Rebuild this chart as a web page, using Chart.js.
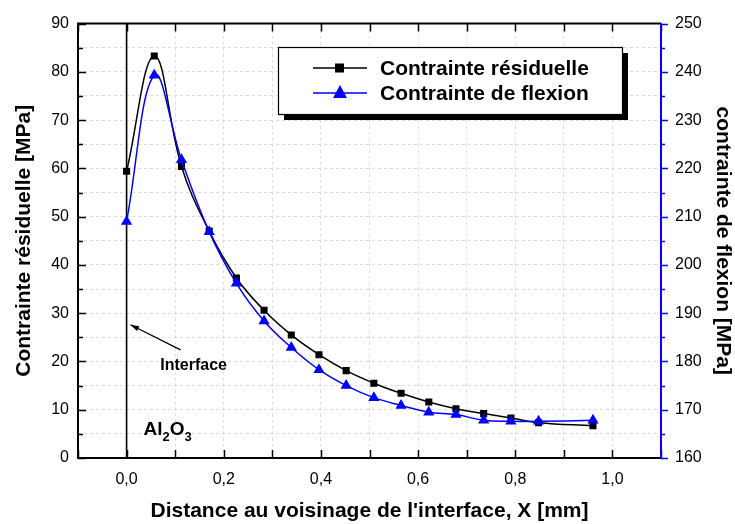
<!DOCTYPE html>
<html>
<head>
<meta charset="utf-8">
<script src="https://cdn.jsdelivr.net/npm/chart.js@4.4.1/dist/chart.umd.min.js"></script>
<style>
  html, body { margin: 0; padding: 0; background: #fff; }
  #wrap { width: 735px; height: 524px; }
</style>
</head>
<body>
<div id="wrap"><canvas id="myChart"></canvas></div>
<script>
// data
const distance = [0, 0.057, 0.113, 0.17, 0.226, 0.283, 0.339, 0.396, 0.452, 0.509, 0.565, 0.622, 0.678, 0.735, 0.791, 0.848, 0.96];
const residualStress = [59.4, 83.3, 60.4, 47.0, 37.3, 30.6, 25.5, 21.4, 18.1, 15.5, 13.4, 11.6, 10.2, 9.2, 8.3, 7.3, 6.7];
const bendingStress = [209.0, 239.3, 221.8, 206.9, 196.2, 188.4, 182.9, 178.3, 175.0, 172.5, 170.9, 169.5, 169.0, 167.8, 167.6, 167.6, 167.8];
const seriesLabels = ["Contrainte résiduelle", "Contrainte de flexion"];

const FONT = "'Liberation Sans', Arial, sans-serif";
const BLUE = "#0000ff";

function toPoints(xs, ys) {
  return xs.map((x, i) => ({ x: x, y: ys[i] }));
}

// frame, inward ticks, interface line, arrow, labels and legend box
const decorPlugin = {
  id: "decor",
  beforeDatasetsDraw(chart) {
    const ctx = chart.ctx;
    const a = chart.chartArea;
    const x0 = chart.scales.x.getPixelForValue(0);
    ctx.save();
    ctx.strokeStyle = "#000";
    ctx.lineWidth = 1.6;
    ctx.beginPath();
    ctx.moveTo(x0, a.top);
    ctx.lineTo(x0, a.bottom);
    ctx.stroke();
    ctx.restore();
  },
  afterDraw(chart) {
    const ctx = chart.ctx;
    const a = chart.chartArea;
    const sx = chart.scales.x;
    const sy = chart.scales.y;
    const sy1 = chart.scales.y1;
    ctx.save();

    // ticks
    ctx.lineWidth = 1.5;
    ctx.strokeStyle = "#000";
    ctx.beginPath();
    sx.ticks.forEach((t) => {
      const px = Math.round(sx.getPixelForValue(t.value)) + 0.5;
      ctx.moveTo(px, a.bottom);
      ctx.lineTo(px, a.bottom - 8);
      ctx.moveTo(px, a.top);
      ctx.lineTo(px, a.top + 8);
    });
    sy.ticks.forEach((t) => {
      const py = Math.round(sy.getPixelForValue(t.value)) + 0.5;
      const len = Math.round(t.value) % 10 === 0 ? 8 : 5;
      ctx.moveTo(a.left, py);
      ctx.lineTo(a.left + len, py);
    });
    ctx.stroke();

    ctx.strokeStyle = BLUE;
    ctx.beginPath();
    sy1.ticks.forEach((t) => {
      const py = Math.round(sy1.getPixelForValue(t.value)) + 0.5;
      const len = Math.round(t.value) % 10 === 0 ? 7 : 4;
      ctx.moveTo(a.right, py);
      ctx.lineTo(a.right + len, py);
    });
    ctx.stroke();

    // frame
    ctx.lineWidth = 2;
    ctx.strokeStyle = "#000";
    ctx.beginPath();
    ctx.moveTo(a.right, a.top);
    ctx.lineTo(a.left, a.top);
    ctx.lineTo(a.left, a.bottom);
    ctx.lineTo(a.right, a.bottom);
    ctx.stroke();
    ctx.strokeStyle = BLUE;
    ctx.beginPath();
    ctx.moveTo(a.right, a.top);
    ctx.lineTo(a.right, a.bottom);
    ctx.stroke();

    // interface arrow
    const tailX = sx.getPixelForValue(0.111), tailY = sy.getPixelForValue(22.4);
    const tipX = sx.getPixelForValue(0.008), tipY = sy.getPixelForValue(27.6);
    ctx.strokeStyle = "#000";
    ctx.fillStyle = "#000";
    ctx.lineWidth = 1.3;
    ctx.beginPath();
    ctx.moveTo(tailX, tailY);
    ctx.lineTo(tipX, tipY);
    ctx.stroke();
    const ang = Math.atan2(tipY - tailY, tipX - tailX);
    ctx.beginPath();
    ctx.moveTo(tipX, tipY);
    ctx.lineTo(tipX - 9 * Math.cos(ang - 0.3), tipY - 9 * Math.sin(ang - 0.3));
    ctx.lineTo(tipX - 9 * Math.cos(ang + 0.3), tipY - 9 * Math.sin(ang + 0.3));
    ctx.closePath();
    ctx.fill();

    ctx.font = "bold 16px " + FONT;
    ctx.textAlign = "center";
    ctx.textBaseline = "alphabetic";
    ctx.fillText("Interface", sx.getPixelForValue(0.138), sy.getPixelForValue(18.2));

    // Al2O3
    ctx.textAlign = "left";
    let px = sx.getPixelForValue(0.035);
    const base = sy.getPixelForValue(4.8);
    ctx.font = "bold 19px " + FONT;
    ctx.fillText("Al", px, base);
    px += ctx.measureText("Al").width;
    ctx.font = "bold 13px " + FONT;
    ctx.fillText("2", px, base + 6);
    px += ctx.measureText("2").width;
    ctx.font = "bold 19px " + FONT;
    ctx.fillText("O", px, base);
    px += ctx.measureText("O").width;
    ctx.font = "bold 13px " + FONT;
    ctx.fillText("3", px, base + 6);

    // legend box with shadow
    const bx = 278, by = 47, bw = 344, bh = 67;
    ctx.fillStyle = "#000";
    ctx.fillRect(bx + 6, by + bh, bw, 6);
    ctx.fillRect(bx + bw, by + 6, 6, bh);
    ctx.fillStyle = "#fff";
    ctx.fillRect(bx, by, bw, bh);
    ctx.strokeStyle = "#000";
    ctx.lineWidth = 1.2;
    ctx.strokeRect(bx + 0.5, by + 0.5, bw, bh);

    const rows = [
      { y: by + 21, color: "#000", label: seriesLabels[0], style: "rect" },
      { y: by + 46, color: BLUE, label: seriesLabels[1], style: "triangle" },
    ];
    rows.forEach((r) => {
      ctx.strokeStyle = r.color;
      ctx.fillStyle = r.color;
      ctx.lineWidth = 1.5;
      ctx.beginPath();
      ctx.moveTo(313, r.y);
      ctx.lineTo(367, r.y);
      ctx.stroke();
      if (r.style === "rect") {
        ctx.fillRect(335, r.y - 4.5, 9, 9);
      } else {
        ctx.beginPath();
        ctx.moveTo(340, r.y - 8);
        ctx.lineTo(347, r.y + 5);
        ctx.lineTo(333, r.y + 5);
        ctx.closePath();
        ctx.fill();
      }
      ctx.fillStyle = "#000";
      ctx.font = "bold 21px " + FONT;
      ctx.textAlign = "left";
      ctx.textBaseline = "middle";
      ctx.fillText(r.label, 380, r.y + 1);
    });

    ctx.restore();
  },
};

const chartContext = document.getElementById("myChart").getContext("2d");

const chart = new Chart(chartContext, {
  type: "line",
  data: {
    datasets: [
      {
        label: seriesLabels[0],
        data: toPoints(distance, residualStress),
        yAxisID: "y",
        borderColor: "#000",
        backgroundColor: "#000",
        borderWidth: 1.5,
        pointStyle: "rect",
        pointRadius: 5,
        pointBorderWidth: 0,
        tension: 0.4,
        order: 1,
      },
      {
        label: seriesLabels[1],
        data: toPoints(distance, bendingStress),
        yAxisID: "y1",
        borderColor: BLUE,
        backgroundColor: BLUE,
        borderWidth: 1.5,
        pointStyle: "triangle",
        pointRadius: 6.5,
        pointBorderWidth: 0,
        tension: 0.4,
        order: 0,
      },
    ],
  },
  options: {
    responsive: true,
    maintainAspectRatio: false,
    animation: false,
    layout: { padding: { top: 17, left: 0, right: 0, bottom: 0 } },
    plugins: {
      legend: { display: false },
      tooltip: { enabled: false },
    },
    scales: {
      x: {
        type: "linear",
        min: -0.1,
        max: 1.1,
        afterFit: (s) => { s.height = 66; },
        grid: { color: "#dcdcdc", lineWidth: 1, drawTicks: false },
        border: { display: false, dash: [3, 3] },
        ticks: {
          stepSize: 0.1,
          autoSkip: false,
          maxRotation: 0,
          padding: 12,
          color: "#000",
          font: { family: FONT, size: 16 },
          callback: (v) => {
            const n = Math.round(v * 10);
            return n % 2 === 0 ? (n / 10).toFixed(1).replace(".", ",") : "";
          },
        },
        title: {
          display: true,
          text: "Distance au voisinage de l'interface, X [mm]",
          color: "#000",
          font: { family: FONT, size: 21, weight: "bold" },
          padding: { top: 0, bottom: 0 },
        },
      },
      y: {
        position: "left",
        min: 0,
        max: 90,
        afterFit: (s) => { s.width = 78; },
        grid: { color: "#dcdcdc", lineWidth: 1, drawTicks: false },
        border: { display: false, dash: [3, 3] },
        ticks: {
          stepSize: 5,
          autoSkip: false,
          padding: 9,
          color: "#000",
          font: { family: FONT, size: 16 },
          callback: (v) => (Math.round(v) % 10 === 0 ? String(v) : ""),
        },
        title: {
          display: true,
          text: "Contrainte résiduelle [MPa]",
          color: "#000",
          font: { family: FONT, size: 21, weight: "bold" },
          padding: { top: 12, bottom: 0 },
        },
      },
      y1: {
        position: "right",
        min: 160,
        max: 250,
        afterFit: (s) => { s.width = 74; },
        grid: { display: false, drawTicks: false },
        border: { display: false },
        ticks: {
          stepSize: 5,
          autoSkip: false,
          padding: 14,
          color: "#000",
          font: { family: FONT, size: 16 },
          callback: (v) => (Math.round(v) % 10 === 0 ? String(v) : ""),
        },
        title: {
          display: true,
          text: "contrainte de flexion [MPa]",
          color: "#000",
          font: { family: FONT, size: 21, weight: "bold" },
          padding: { top: 0, bottom: 0 },
        },
      },
    },
  },
  plugins: [decorPlugin],
});
</script>
</body>
</html>
